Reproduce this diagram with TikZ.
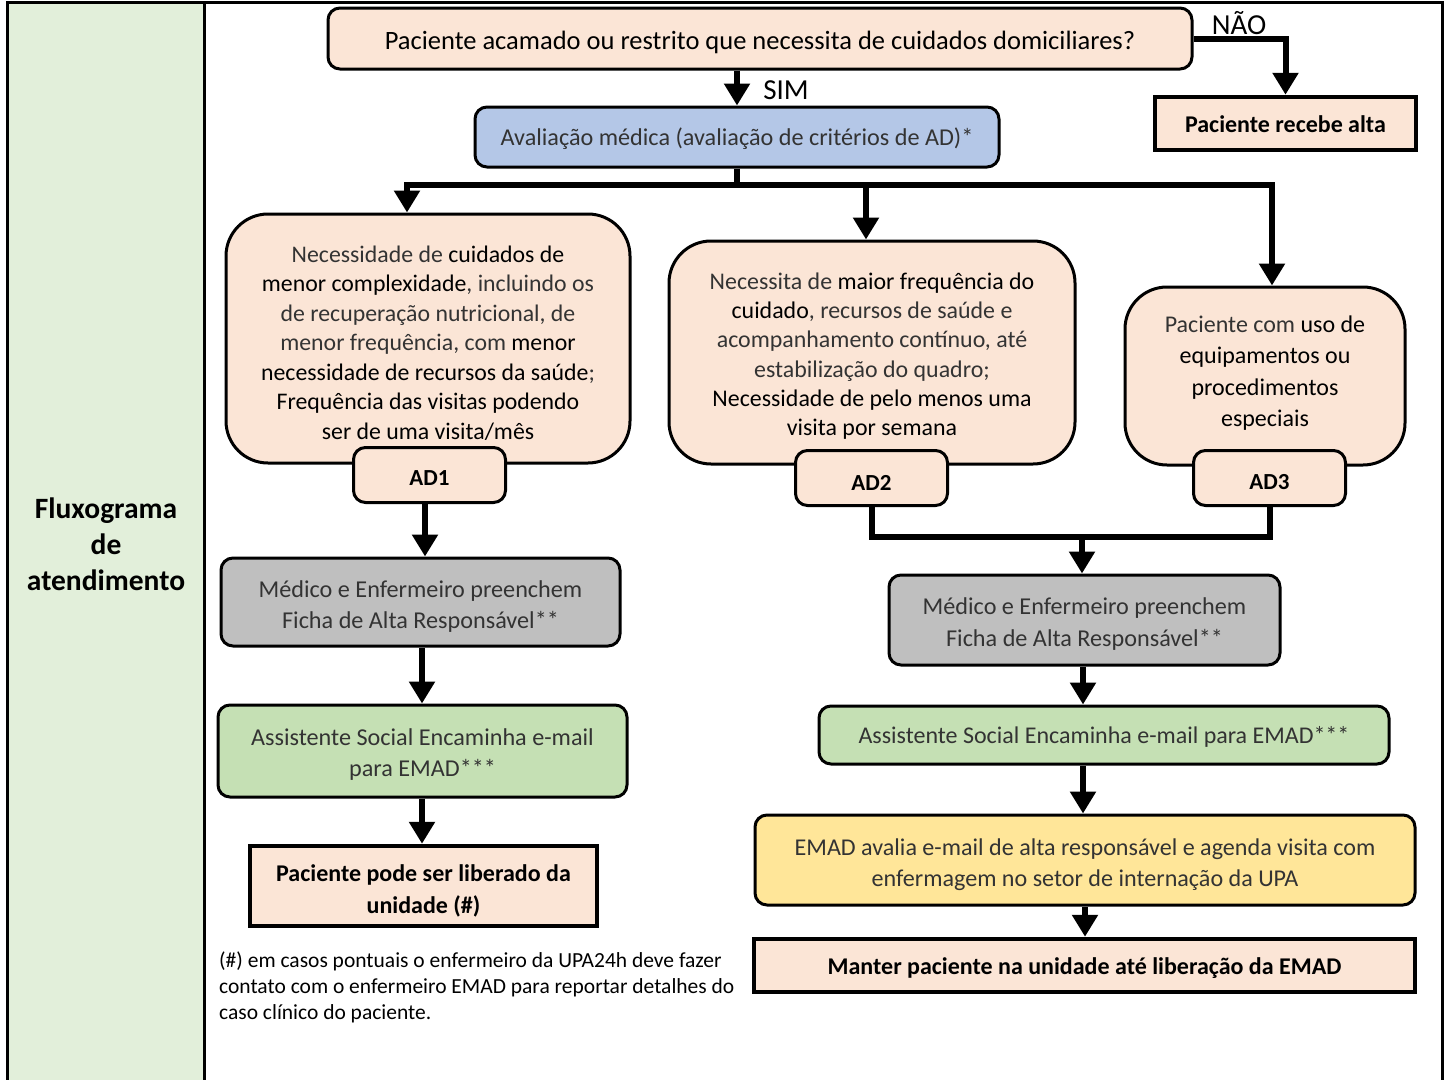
\documentclass[tikz,border=0pt]{standalone}
\usepackage{fontspec}
\setmainfont{Carlito}
\usetikzlibrary{arrows.meta,calc}
\definecolor{peach}{HTML}{FBE5D6}
\definecolor{blueb}{HTML}{B4C7E7}
\definecolor{grayb}{HTML}{BFBFBF}
\definecolor{greenb}{HTML}{C5E0B4}
\definecolor{yellowb}{HTML}{FFE699}
\definecolor{sidegreen}{HTML}{E2EFDA}
\definecolor{lighttxt}{HTML}{333333}
\newcommand{\bk}[1]{\textcolor{black}{#1}}
\tikzset{
  box/.style={draw=black, line width=3pt, rounded corners=12pt, inner sep=0pt},
  bigbox/.style={box, fill=peach, rounded corners=42pt},
  adbox/.style={box, fill=peach, minimum width=152pt, minimum height=55pt},
  rbox/.style={draw=black, line width=4.5pt, fill=peach, inner sep=0pt},
  tx/.style={align=center, inner sep=0pt, text=lighttxt},
  btx/.style={align=center, inner sep=0pt, text=black, font=\fontsize{24}{32}\selectfont\bfseries},
  adtx/.style={inner sep=0pt, text=black, font=\fontsize{23}{27}\selectfont\bfseries},
  arr/.style={line width=6pt, -{Triangle[width=25pt,length=22pt]}},
  ln/.style={line width=6pt},
  lbl/.style={inner sep=0pt, font=\fontsize{29}{33}\selectfont}
}
\begin{document}
\begin{tikzpicture}[x=1pt,y=-1pt]
\useasboundingbox (0,0) rectangle (1450,1079);
% frame
\fill[sidegreen] (7,2) rectangle (204,1090);
\draw[line width=3pt] (7,1090) -- (7,2) -- (1442,2) -- (1442,1090);
\draw[line width=3pt] (204,2) -- (204,1090);
\node[align=center, inner sep=0pt, font=\fontsize{29.5}{36}\selectfont\bfseries] (side) at (106,544) {Fluxograma\\de\\atendimento};

% top
\node[box, fill=peach, minimum width=864pt, minimum height=61pt] (top) at (760,38.5) {};
\node[tx, text=black, font=\fontsize{26.5}{30}\selectfont] (topt) at ($(top)+(0,3.5)$) {Paciente acamado ou restrito que necessita de cuidados domiciliares?};
\node[rbox, minimum width=261pt, minimum height=53pt] (alta) at (1285.5,123.5) {};
\node[btx] (altat) at ($(alta)+(0,1)$) {Paciente recebe alta};
\node[box, fill=blueb, minimum width=524pt, minimum height=60pt] (aval) at (737,137) {};
\node[tx, font=\fontsize{24.2}{28}\selectfont] (avalt) at ($(aval)+(0,2)$) {Avaliação médica (avaliação de critérios de AD)*};

\draw[arr] (top.east) -| (alta.north);
\node[lbl] (nao) at (1239,23) {NÃO};
\draw[arr] (aval.north |- top.south) -- (aval.north);
\node[lbl] (sim) at (786,90) {SIM};

% AD boxes
\node[bigbox, minimum width=404pt, minimum height=249pt] (ad1big) at (428,338.5) {};
\node[tx, font=\fontsize{23.8}{29.5}\selectfont] (ad1txt) at (428,343) {Necessidade de \bk{cuidados de}\\\bk{menor complexidade}, incluindo os\\de recuperação nutricional, de\\menor frequência, com \bk{menor}\\\bk{necessidade de recursos da saúde};\\\bk{Frequência das visitas podendo}\\\bk{ser de uma visita/mês}};
\node[adbox] (ad1) at (429.5,475) {};
\node[adtx] (ad1t) at ($(ad1)+(0,3)$) {AD1};

\node[bigbox, minimum width=406pt, minimum height=223pt] (ad2big) at (872,352.5) {};
\node[tx, font=\fontsize{23.9}{29.3}\selectfont] (ad2txt) at (872,356) {Necessita de \bk{maior frequência do}\\\bk{cuidado}, recursos de saúde e\\acompanhamento contínuo, até\\estabilização do quadro;\\\bk{Necessidade de pelo menos uma}\\\bk{visita por semana}};
\node[adbox] (ad2) at (871.5,478) {};
\node[adtx] (ad2t) at ($(ad2)+(0,4.5)$) {AD2};

\node[bigbox, minimum width=280pt, minimum height=178pt] (ad3big) at (1265,376) {};
\node[tx, font=\fontsize{24}{31.5}\selectfont] (ad3txt) at (1265,373) {Paciente com \bk{uso de}\\\bk{equipamentos ou}\\\bk{procedimentos}\\\bk{especiais}};
\node[adbox] (ad3) at (1269.5,478) {};
\node[adtx] (ad3t) at ($(ad3)+(0,4.5)$) {AD3};

% branch from evaluation
\coordinate (b1) at (407,185);
\coordinate (b2) at (866,185);
\coordinate (b3) at (1272,185);
\draw[ln] (aval.south) -- (aval.south |- b1);
\draw[ln, line cap=rect] (b1) -- (b3);
\draw[arr] (b1) -- (b1 |- ad1big.north);
\draw[arr] (b2) -- (b2 |- ad2big.north);
\draw[arr] (b3) -- (b3 |- ad3big.north);

% left column
\node[box, fill=grayb, minimum width=399pt, minimum height=88pt] (med1) at (420.5,602) {};
\node[tx, font=\fontsize{24.2}{31}\selectfont] (med1t) at ($(med1)+(0,5)$) {Médico e Enfermeiro preenchem\\Ficha de Alta Responsável**};
\node[box, fill=greenb, minimum width=409pt, minimum height=92pt] (ass1) at (422.5,751) {};
\node[tx, font=\fontsize{24.2}{31}\selectfont] (ass1t) at ($(ass1)+(0,4)$) {Assistente Social Encaminha e-mail\\para EMAD***};
\node[rbox, minimum width=347pt, minimum height=80pt] (lib) at (423.5,886) {};
\node[btx] (libt) at ($(lib)+(0,5)$) {Paciente pode ser liberado da\\unidade (\#)};
\coordinate (c1) at (425,0);
\coordinate (c2) at (422,0);
\draw[arr] (c1 |- ad1.south) -- (c1 |- med1.north);
\draw[arr] (c2 |- med1.south) -- (c2 |- ass1.north);
\draw[arr] (c2 |- ass1.south) -- (c2 |- lib.north);

\node[anchor=west, align=left, inner sep=0pt, font=\fontsize{21.5}{26}\selectfont] (nota) at (219,987) {(\#) em casos pontuais o enfermeiro da UPA24h deve fazer\\contato com o enfermeiro EMAD para reportar detalhes do\\caso clínico do paciente.};

% right column
\node[box, fill=grayb, minimum width=391pt, minimum height=90pt] (med2) at (1084.5,620) {};
\node[tx, font=\fontsize{24.2}{32}\selectfont] (med2t) at ($(med2)+(0,4)$) {Médico e Enfermeiro preenchem\\Ficha de Alta Responsável**};
\node[box, fill=greenb, minimum width=570pt, minimum height=58pt] (ass2) at (1104,735) {};
\node[tx, font=\fontsize{24}{28}\selectfont] (ass2t) at ($(ass2)+(0,2)$) {Assistente Social Encaminha e-mail para EMAD***};
\node[box, fill=yellowb, minimum width=660pt, minimum height=90pt] (emad) at (1085,860) {};
\node[tx, font=\fontsize{24.1}{31}\selectfont] (emadt) at ($(emad)+(0,5)$) {EMAD avalia e-mail de alta responsável e agenda visita com\\enfermagem no setor de internação da UPA};
\node[rbox, minimum width=661pt, minimum height=53pt] (manter) at (1084.5,965.5) {};
\node[btx] (mantert) at ($(manter)+(0,2.5)$) {Manter paciente na unidade até liberação da EMAD};

\coordinate (j) at (1082,537);
\draw[ln] (ad2.south) |- (j) -| (ad3.south);
\draw[arr] (j) -- (j |- med2.north);
\coordinate (d1) at (1083,0);
\coordinate (d2) at (1085,0);
\draw[arr] (d1 |- med2.south) -- (d1 |- ass2.north);
\draw[arr] (d1 |- ass2.south) -- (d1 |- emad.north);
\draw[arr] (d2 |- emad.south) -- (d2 |- manter.north);
\end{tikzpicture}
\end{document}
